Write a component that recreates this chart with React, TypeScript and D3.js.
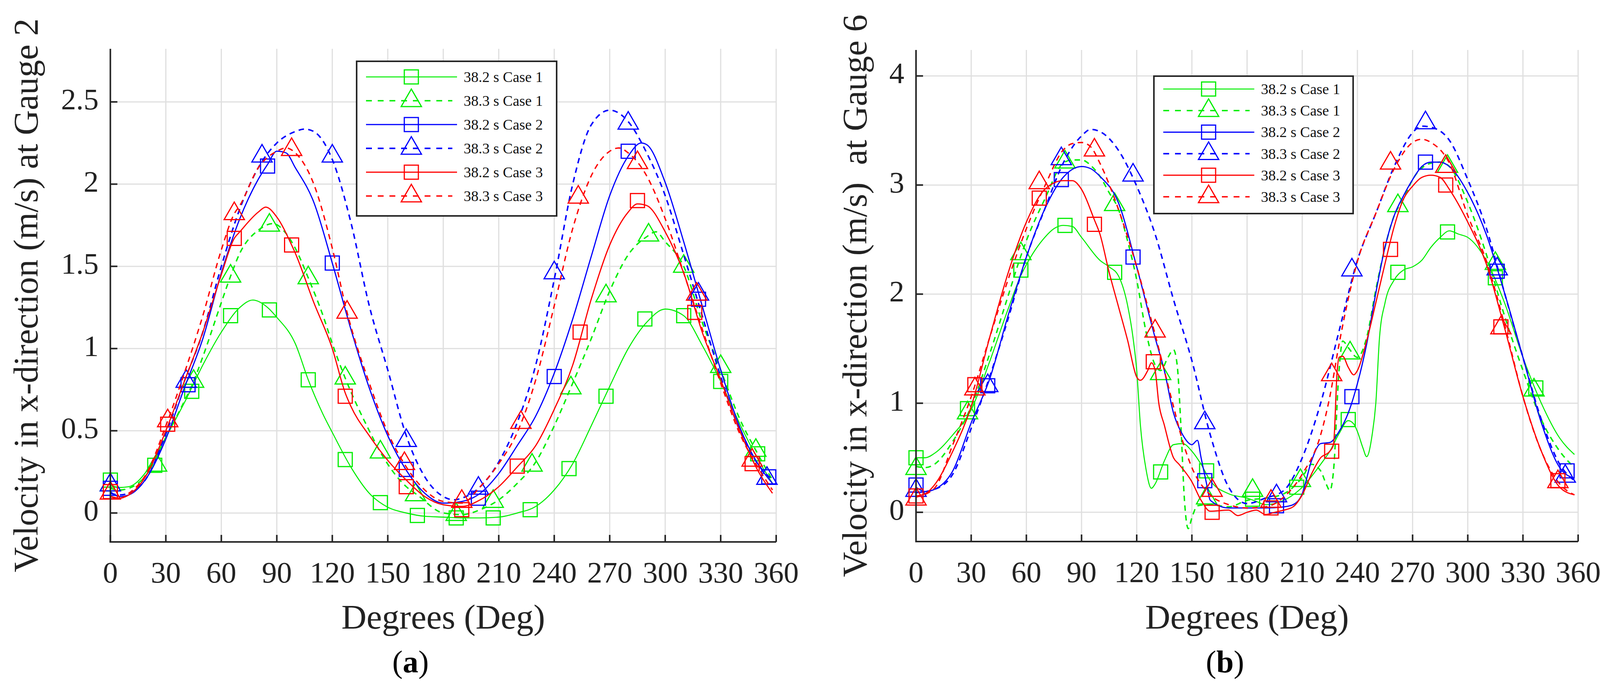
import React, { useEffect } from 'react'
import * as d3 from 'd3'

type Pt = [number, number]

// ---- tick labels ----
const degTicks = [0, 30, 60, 90, 120, 150, 180, 210, 240, 270, 300, 330, 360]
const gauge2Ticks = [0, 0.5, 1, 1.5, 2, 2.5]
const gauge6Ticks = [0, 1, 2, 3, 4]

const legendLabels = [
  '38.2 s Case 1',
  '38.3 s Case 1',
  '38.2 s Case 2',
  '38.3 s Case 2',
  '38.2 s Case 3',
  '38.3 s Case 3',
]

// ---- Gauge 2 (a) ----
const g2c1s382: Pt[] = [[0,0.17],[5,0.155],[10,0.16],[20,0.26],[30,0.46],[40,0.67],[50,0.9],[60,1.1],[70,1.25],[77,1.295],[85,1.25],[90,1.19],[100,1.03],[107,0.81],[115,0.6],[120,0.49],[130,0.28],[140,0.12],[150,0.035],[160,0.0],[170,-0.02],[180,-0.025],[190,-0.03],[200,-0.03],[210,-0.025],[220,0.0],[230,0.04],[240,0.14],[250,0.3],[260,0.53],[270,0.77],[280,1.0],[290,1.16],[300,1.24],[310,1.2],[320,1.02],[330,0.8],[340,0.55],[350,0.33],[358,0.18]]
const g2c1s382Marks: Pt[] = [[0,0.2],[24,0.29],[44,0.74],[65,1.2],[86,1.235],[107,0.81],[127,0.325],[146,0.063],[166,-0.015],[187,-0.03],[207,-0.03],[227,0.02],[248,0.27],[268,0.71],[289,1.18],[310,1.2],[330,0.8],[350,0.36]]

const g2c1s383: Pt[] = [[0,0.15],[5,0.14],[10,0.15],[20,0.24],[30,0.46],[40,0.68],[45,0.8],[50,0.95],[60,1.28],[65,1.44],[70,1.58],[80,1.72],[88,1.76],[95,1.7],[100,1.61],[107,1.43],[115,1.2],[120,1.03],[127,0.82],[140,0.5],[146,0.37],[160,0.16],[166,0.11],[180,0.0],[190,-0.01],[200,0.02],[210,0.08],[220,0.18],[230,0.31],[240,0.53],[250,0.79],[260,1.06],[270,1.35],[280,1.57],[290,1.68],[295,1.71],[300,1.65],[310,1.5],[320,1.16],[330,0.87],[340,0.58],[350,0.36],[358,0.2]]
const g2c1s383Marks: Pt[] = [[0,0.17],[25,0.29],[45,0.8],[65,1.44],[86,1.75],[107,1.43],[127,0.82],[146,0.37],[165,0.11],[187,-0.01],[207,0.07],[228,0.29],[249,0.76],[268,1.32],[291,1.69],[310,1.5],[330,0.89],[349,0.38]]

const g2c2s382: Pt[] = [[0,0.13],[5,0.1],[10,0.11],[20,0.22],[30,0.45],[40,0.76],[50,1.06],[60,1.46],[70,1.79],[80,2.03],[85,2.12],[90,2.2],[95,2.19],[100,2.1],[110,1.89],[120,1.52],[130,1.12],[140,0.76],[150,0.47],[160,0.26],[170,0.12],[180,0.06],[190,0.07],[200,0.12],[210,0.24],[220,0.41],[230,0.59],[240,0.85],[250,1.18],[260,1.56],[270,1.93],[280,2.17],[287,2.25],[290,2.24],[300,2.01],[310,1.65],[320,1.26],[330,0.87],[340,0.53],[350,0.3],[358,0.18]]
const g2c2s382Marks: Pt[] = [[0,0.15],[42,0.78],[85,2.11],[120,1.52],[160,0.265],[199,0.09],[240,0.83],[280,2.2],[318,1.3],[356,0.22]]

const g2c2s383: Pt[] = [[0,0.12],[5,0.11],[10,0.12],[20,0.22],[30,0.48],[40,0.8],[50,1.1],[60,1.5],[70,1.85],[80,2.1],[90,2.25],[100,2.32],[105,2.335],[110,2.32],[120,2.15],[130,1.77],[140,1.26],[150,0.87],[160,0.47],[170,0.22],[180,0.1],[186,0.08],[190,0.09],[200,0.16],[210,0.31],[220,0.55],[230,0.9],[240,1.42],[250,2.0],[260,2.36],[270,2.45],[280,2.38],[290,2.19],[300,1.93],[310,1.57],[320,1.2],[330,0.83],[340,0.51],[350,0.3],[358,0.2]]
const g2c2s383Marks: Pt[] = [[0,0.17],[41,0.8],[82,2.17],[120,2.17],[160,0.44],[199,0.15],[240,1.46],[280,2.37],[318,1.33],[355,0.21]]

const g2c3s382: Pt[] = [[0,0.1],[5,0.09],[10,0.11],[20,0.24],[30,0.5],[40,0.8],[50,1.1],[60,1.45],[67,1.67],[70,1.71],[80,1.83],[84,1.86],[90,1.8],[98,1.63],[100,1.58],[110,1.28],[120,1.0],[127,0.73],[130,0.65],[140,0.47],[150,0.32],[160,0.2],[170,0.1],[180,0.05],[190,0.04],[200,0.08],[210,0.16],[220,0.28],[230,0.41],[240,0.63],[250,0.9],[260,1.3],[270,1.63],[280,1.83],[285,1.88],[290,1.87],[300,1.71],[310,1.46],[320,1.1],[330,0.81],[340,0.51],[350,0.26],[358,0.12]]
const g2c3s382Marks: Pt[] = [[0,0.13],[31,0.54],[67,1.67],[98,1.63],[127,0.71],[160,0.16],[190,0.02],[220,0.285],[254,1.1],[285,1.9],[316,1.22],[347,0.3]]

const g2c3s383: Pt[] = [[0,0.1],[5,0.09],[10,0.12],[20,0.25],[30,0.53],[40,0.85],[50,1.2],[60,1.6],[67,1.82],[70,1.87],[80,2.1],[90,2.2],[95,2.22],[100,2.19],[110,2.0],[120,1.61],[128,1.22],[140,0.79],[150,0.49],[160,0.28],[170,0.14],[180,0.07],[190,0.06],[200,0.16],[210,0.3],[220,0.49],[230,0.81],[240,1.26],[250,1.73],[260,2.05],[270,2.2],[275,2.22],[280,2.19],[290,2.05],[300,1.79],[310,1.46],[320,1.12],[330,0.79],[340,0.49],[350,0.28],[358,0.14]]
const g2c3s383Marks: Pt[] = [[0,0.12],[31,0.56],[67,1.82],[98,2.21],[128,1.22],[159,0.3],[190,0.07],[222,0.55],[253,1.92],[285,2.13],[317,1.33],[347,0.32]]

// ---- Gauge 6 (b) ----
const g6c1s382: Pt[] = [[0,0.5],[5,0.5],[10,0.54],[20,0.71],[30,0.94],[40,1.38],[50,1.86],[57,2.17],[60,2.27],[70,2.52],[75,2.6],[80,2.63],[85,2.62],[90,2.52],[100,2.31],[105,2.25],[110,2.17],[115,1.9],[118,1.6],[120,1.3],[122,0.8],[125,0.4],[128,0.22],[130,0.26],[135,0.47],[140,0.62],[145,0.63],[150,0.56],[155,0.44],[160,0.29],[170,0.17],[180,0.13],[185,0.1],[190,0.07],[200,0.11],[210,0.23],[220,0.44],[225,0.56],[230,0.72],[235,0.84],[238,0.81],[240,0.74],[243,0.59],[245,0.51],[248,0.71],[250,1.0],[252,1.6],[255,1.92],[260,2.13],[265,2.22],[270,2.25],[275,2.31],[280,2.43],[285,2.52],[290,2.58],[295,2.55],[300,2.52],[310,2.31],[320,1.92],[330,1.42],[340,1.0],[350,0.68],[358,0.53]]
const g6c1s382Marks: Pt[] = [[0,0.5],[28,0.95],[57,2.22],[81,2.63],[108,2.2],[133,0.37],[158,0.38],[183,0.12],[207,0.23],[235,0.85],[262,2.2],[289,2.57],[315,2.15],[337,1.14]]

const g6c1s383: Pt[] = [[0,0.42],[5,0.41],[10,0.44],[20,0.65],[30,0.97],[40,1.45],[50,1.98],[57,2.35],[60,2.49],[70,2.87],[80,3.2],[85,3.23],[90,3.23],[95,3.18],[100,3.08],[105,2.93],[110,2.78],[115,2.49],[120,2.13],[125,1.66],[130,1.35],[133,1.3],[137,1.42],[140,1.49],[142,1.35],[144,0.8],[146,0.1],[148,-0.15],[150,-0.05],[153,0.06],[160,0.07],[170,0.05],[180,0.11],[190,0.13],[200,0.17],[210,0.32],[215,0.44],[220,0.38],[223,0.26],[225,0.2],[227,0.38],[230,1.3],[232,1.57],[235,1.51],[240,1.42],[245,1.6],[250,2.04],[255,2.43],[260,2.72],[265,2.87],[270,3.05],[280,3.2],[285,3.21],[290,3.17],[300,2.84],[310,2.37],[320,1.8],[330,1.3],[340,0.85],[350,0.56],[358,0.41]]
const g6c1s383Marks: Pt[] = [[0,0.4],[28,0.91],[57,2.37],[81,3.21],[108,2.82],[133,1.27],[158,0.13],[183,0.2],[209,0.29],[236,1.46],[262,2.81],[289,3.17],[315,2.28],[336,1.12]]

const g6c2s382: Pt[] = [[0,0.23],[5,0.19],[10,0.21],[20,0.38],[30,0.82],[40,1.22],[50,1.8],[60,2.34],[70,2.78],[80,3.07],[90,3.17],[95,3.15],[100,3.08],[110,2.84],[120,2.25],[130,1.6],[135,1.3],[140,0.91],[145,0.71],[150,0.62],[153,0.66],[155,0.5],[158,0.26],[160,0.11],[170,0.04],[180,0.04],[190,0.04],[200,0.05],[205,0.07],[210,0.17],[215,0.47],[220,0.63],[225,0.64],[230,0.74],[235,0.91],[240,1.18],[245,1.54],[250,2.01],[255,2.43],[260,2.72],[265,2.9],[270,3.05],[275,3.17],[280,3.21],[285,3.21],[290,3.17],[300,2.93],[310,2.55],[320,2.01],[330,1.42],[340,0.82],[350,0.41],[358,0.31]]
const g6c2s382Marks: Pt[] = [[0,0.25],[39,1.16],[79,3.05],[118,2.34],[157,0.29],[196,0.06],[237,1.06],[277,3.21],[316,2.21],[354,0.38]]

const g6c2s383: Pt[] = [[0,0.18],[10,0.21],[20,0.35],[30,0.77],[40,1.24],[50,1.77],[60,2.34],[70,2.78],[80,3.2],[90,3.45],[95,3.51],[100,3.49],[110,3.32],[120,2.99],[130,2.55],[140,1.95],[150,1.39],[160,0.71],[170,0.23],[180,0.08],[190,0.13],[200,0.2],[210,0.5],[220,1.0],[230,1.66],[240,2.31],[250,2.74],[260,3.17],[270,3.48],[275,3.54],[280,3.53],[290,3.41],[300,3.05],[310,2.61],[320,2.01],[330,1.42],[340,0.85],[350,0.44],[358,0.29]]
const g6c2s383Marks: Pt[] = [[0,0.2],[39,1.16],[79,3.24],[118,3.09],[157,0.82],[196,0.15],[237,2.22],[277,3.57],[316,2.23],[353,0.33]]

const g6c3s382: Pt[] = [[0,0.15],[5,0.17],[10,0.25],[20,0.56],[30,0.97],[40,1.6],[50,2.19],[60,2.66],[70,2.96],[80,3.04],[85,3.04],[90,2.96],[97,2.68],[100,2.55],[105,2.2],[110,1.89],[115,1.58],[120,1.24],[122,1.21],[126,1.3],[128,1.37],[130,1.3],[132,1.0],[135,0.8],[140,0.5],[143,0.44],[150,0.28],[155,0.11],[160,0.01],[170,0.02],[175,-0.03],[180,0.0],[185,0.02],[190,-0.02],[195,0.0],[200,0.02],[205,0.05],[210,0.16],[215,0.35],[220,0.5],[225,0.56],[227,0.62],[229,1.3],[230,1.42],[232,1.43],[235,1.33],[238,1.26],[240,1.3],[245,1.57],[250,1.92],[255,2.28],[260,2.62],[265,2.87],[270,2.99],[275,3.07],[280,3.09],[285,3.07],[290,2.96],[300,2.66],[310,2.28],[320,1.69],[330,1.06],[340,0.56],[350,0.23],[358,0.16]]
const g6c3s382Marks: Pt[] = [[0,0.15],[32,1.17],[67,2.88],[97,2.64],[129,1.38],[161,0.0],[193,0.04],[226,0.56],[258,2.41],[288,3.0],[318,1.7],[349,0.29]]

const g6c3s383: Pt[] = [[0,0.14],[10,0.22],[20,0.62],[30,1.06],[40,1.6],[50,2.13],[60,2.6],[70,2.99],[80,3.32],[85,3.38],[90,3.39],[95,3.35],[100,3.2],[110,2.78],[120,2.25],[130,1.63],[140,0.97],[145,0.65],[150,0.41],[160,0.16],[170,0.07],[180,0.04],[190,0.05],[200,0.14],[210,0.35],[220,0.71],[225,1.06],[230,1.54],[240,2.3],[250,2.74],[260,3.15],[270,3.39],[275,3.42],[280,3.39],[290,3.2],[300,2.72],[310,2.31],[320,1.72],[330,1.06],[340,0.56],[350,0.26],[358,0.16]]
const g6c3s383Marks: Pt[] = [[0,0.12],[32,1.13],[67,3.02],[97,3.32],[130,1.66],[161,0.2],[193,0.1],[226,1.26],[258,3.2],[288,3.17],[318,1.69],[349,0.28]]

// ---- styles ----
const GREEN = '#00ee00'
const BLUE = '#0000ff'
const RED = '#ff0000'
const seriesStyle = [
  { color: GREEN, dashed: false, marker: 'square', width: 2.6 },
  { color: GREEN, dashed: true, marker: 'triangle', width: 3.6 },
  { color: BLUE, dashed: false, marker: 'square', width: 3 },
  { color: BLUE, dashed: true, marker: 'triangle', width: 3.8 },
  { color: RED, dashed: false, marker: 'square', width: 3 },
  { color: RED, dashed: true, marker: 'triangle', width: 3.4 },
]

const FONT = '"Liberation Serif", "DejaVu Serif", serif'
const AXIS = '#262626'
const GRID = '#dfdfdf'
const SQ = 36
const TRI_W = 52
const TRI_H = 45

const Marker: React.FC<{ kind: string; x: number; y: number; color: string }> = ({ kind, x, y, color }) => {
  if (kind === 'square') {
    return <rect x={x - SQ / 2} y={y - SQ / 2} width={SQ} height={SQ} fill="none" stroke={color} strokeWidth={3} />
  }
  const d = `M${x},${y - (2 * TRI_H) / 3}L${x + TRI_W / 2},${y + TRI_H / 3}L${x - TRI_W / 2},${y + TRI_H / 3}Z`
  return <path d={d} fill="none" stroke={color} strokeWidth={3} strokeLinejoin="miter" />
}

interface PanelProps {
  lines: Pt[][]
  marks: Pt[][]
  yDomain: [number, number]
  yTicks: number[]
  frame: { left: number; right: number; top: number; bottom: number }
  yLabel: string
  yLabelX: number
  tag: string
  tagX: number
  legend: { x: number; y: number; w: number; h: number; first: number; step: number }
}

const Panel: React.FC<PanelProps> = ({ lines, marks, yDomain, yTicks, frame, yLabel, yLabelX, tag, tagX, legend }) => {
  const x = d3.scaleLinear().domain([0, 360]).range([frame.left, frame.right])
  const y = d3.scaleLinear().domain(yDomain).range([frame.bottom, frame.top])
  const line = d3
    .line<Pt>()
    .x(d => x(d[0]))
    .y(d => y(d[1]))
    .curve(d3.curveMonotoneX)
  const midY = (frame.top + frame.bottom) / 2
  const midX = (frame.left + frame.right) / 2

  return (
    <g>
      {/* grid */}
      {degTicks.map(t => (
        <line key={'gx' + t} x1={x(t)} x2={x(t)} y1={frame.top} y2={frame.bottom} stroke={GRID} strokeWidth={3} />
      ))}
      {yTicks.map(t => (
        <line key={'gy' + t} x1={frame.left} x2={frame.right} y1={y(t)} y2={y(t)} stroke={GRID} strokeWidth={3} />
      ))}

      {/* series */}
      {lines.map((pts, i) => {
        const s = seriesStyle[i]
        return (
          <g key={'s' + i}>
            <path
              d={line(pts) || ''}
              fill="none"
              stroke={s.color}
              strokeWidth={s.width}
              strokeDasharray={s.dashed ? '14,11' : undefined}
            />
            {marks[i].map((m, j) => (
              <Marker key={j} kind={s.marker} x={x(m[0])} y={y(m[1])} color={s.color} />
            ))}
          </g>
        )
      })}

      {/* axes */}
      <line x1={frame.left} x2={frame.left} y1={frame.top} y2={frame.bottom + 2} stroke={AXIS} strokeWidth={4} />
      <line x1={frame.left - 2} x2={frame.right} y1={frame.bottom} y2={frame.bottom} stroke={AXIS} strokeWidth={4} />
      {degTicks.map(t => (
        <g key={'tx' + t}>
          <line x1={x(t)} x2={x(t)} y1={frame.bottom} y2={frame.bottom - 18} stroke={AXIS} strokeWidth={4} />
          <text x={x(t)} y={frame.bottom + 104} textAnchor="middle" fontFamily={FONT} fontSize={77} fill="#222">
            {t}
          </text>
        </g>
      ))}
      {yTicks.map(t => (
        <g key={'ty' + t}>
          <line x1={frame.left} x2={frame.left + 18} y1={y(t)} y2={y(t)} stroke={AXIS} strokeWidth={4} />
          <text x={frame.left - 30} y={y(t) + 19} textAnchor="end" fontFamily={FONT} fontSize={77} fill="#222">
            {String(t)}
          </text>
        </g>
      ))}

      {/* labels */}
      <text
        transform={`translate(${yLabelX},${midY}) rotate(-90)`}
        textAnchor="middle"
        fontFamily={FONT}
        fontSize={89}
        fill="#222"
        style={{ whiteSpace: 'pre' }}
      >
        {yLabel}
      </text>
      <text x={midX} y={1610} textAnchor="middle" fontFamily={FONT} fontSize={89} fill="#222">
        Degrees (Deg)
      </text>
      <text x={tagX} y={1722} textAnchor="middle" fontFamily={FONT} fontSize={80} fill="#000">
        (<tspan fontWeight="bold">{tag}</tspan>)
      </text>

      {/* legend */}
      <rect x={legend.x} y={legend.y} width={legend.w} height={legend.h} fill="#fff" stroke={AXIS} strokeWidth={4} />
      {legendLabels.map((lab, i) => {
        const s = seriesStyle[i]
        const ry = legend.y + legend.first + i * legend.step
        return (
          <g key={'lg' + i}>
            <line
              x1={legend.x + 24}
              x2={legend.x + (s.dashed ? 245 : 257)}
              y1={ry}
              y2={ry}
              stroke={s.color}
              strokeWidth={s.width}
              strokeDasharray={s.dashed ? '15,15' : undefined}
            />
            <Marker kind={s.marker} x={legend.x + 140} y={ry} color={s.color} />
            <text x={legend.x + 274} y={ry + 13} fontFamily={FONT} fontSize={38} fill="#111">
              {lab}
            </text>
          </g>
        )
      })}
    </g>
  )
}

const App: React.FC = () => {
  useEffect(() => {
    document.body.style.margin = '0'
  }, [])

  return (
    <svg width={4113} height={1757} style={{ position: 'absolute', left: 0, top: 0, background: '#fff' }}>
      <rect x={0} y={0} width={4113} height={1757} fill="#fff" />
      <Panel
        lines={[g2c1s382, g2c1s383, g2c2s382, g2c2s383, g2c3s382, g2c3s383]}
        marks={[g2c1s382Marks, g2c1s383Marks, g2c2s382Marks, g2c2s383Marks, g2c3s382Marks, g2c3s383Marks]}
        yDomain={[-0.176, 2.823]}
        yTicks={gauge2Ticks}
        frame={{ left: 282.5, right: 1987, top: 125, bottom: 1388 }}
        yLabel="Velocity in x-direction (m/s) at Gauge 2"
        yLabelX={96}
        tag="a"
        tagX={1051}
        legend={{ x: 913, y: 157, w: 512, h: 396, first: 40, step: 61 }}
      />
      <Panel
        lines={[g6c1s382, g6c1s383, g6c2s382, g6c2s383, g6c3s382, g6c3s383]}
        marks={[g6c1s382Marks, g6c1s383Marks, g6c2s382Marks, g6c2s383Marks, g6c3s382Marks, g6c3s383Marks]}
        yDomain={[-0.268, 4.238]}
        yTicks={gauge6Ticks}
        frame={{ left: 2345, right: 4040, top: 128, bottom: 1387 }}
        yLabel="Velocity in x-direction (m/s)  at Gauge 6"
        yLabelX={2218}
        tag="b"
        tagX={3136}
        legend={{ x: 2954, y: 195, w: 510, h: 352, first: 33, step: 55.2 }}
      />
    </svg>
  )
}

export default App
